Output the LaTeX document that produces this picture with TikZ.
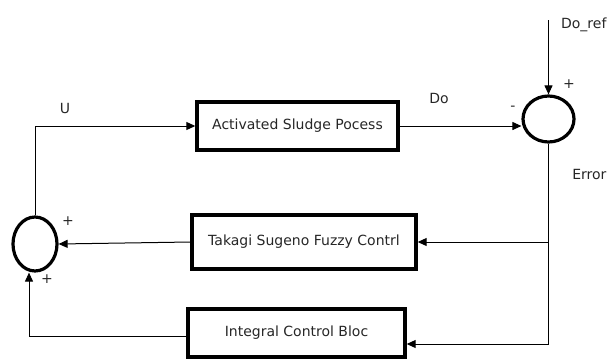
\documentclass[tikz,border=0pt]{standalone}
\usepackage{fontspec}
\setmainfont{DejaVu Sans}
\usetikzlibrary{shapes.geometric,arrows.meta}

\begin{document}
\begin{tikzpicture}[x=1pt,y=-1pt,
  blk/.style={draw,line width=3.4pt,inner sep=0pt},
  sumnode/.style={draw,ellipse,line width=3.2pt,inner sep=0pt},
  sig/.style={line width=1pt},
  lbl/.style={text=black!85,font=\fontsize{14}{16}\selectfont},
  >={Triangle[length=9pt,width=8pt]}]
  \useasboundingbox (0,0) rectangle (611,360);
  % blocks
  \node[blk,lbl,minimum width=201pt,minimum height=48pt] (asp) at (297.5,126) {Activated Sludge Pocess};
  \node[blk,lbl,minimum width=224pt,minimum height=54pt] (ts) at (304,242) {Takagi Sugeno Fuzzy Contrl};
  \node[blk,lbl,minimum width=217pt,minimum height=48pt] (ic) at (296.5,333) {Integral Control Bloc};
  % summing junctions
  \node[sumnode,minimum width=51pt,minimum height=46pt] (sumerr) at (548.5,119) {};
  \node[sumnode,minimum width=44pt,minimum height=54pt] (sumu) at (35,244) {};
  \coordinate (ref) at (548.5,20);
  \coordinate (br) at (548.5,344);
  \coordinate (bl) at (29,336);
  % connectors
  \draw[sig,->] (ref) -- (sumerr.north);
  \draw[sig,->] (asp.east) -- (sumerr.west |- asp.east);
  \draw[sig] (sumerr.south) -- (br);
  \draw[sig,->] (br) -- (br -| ic.east);
  \draw[sig,->] (sumerr.south |- ts.east) -- (ts.east);
  \draw[sig,->] (ts.west) -- (sumu.east);
  \draw[sig] (ic.west |- bl) -- (bl);
  \draw[sig,->] (bl) -- (bl |- sumu.south);
  \draw[sig,->] (sumu.north) -- (sumu.north |- asp.west) -- (asp.west);
  % labels
  \node[lbl] (lu) at (65,108) {U};
  \node[lbl] (ldo) at (439,98) {Do};
  \node[lbl,anchor=east] (lref) at (610,25) {Do\_ref};
  \node[lbl,anchor=east] (lerr) at (610,174) {Error};
  \node[lbl] (lm) at (513,108) {-};
  \node[lbl] (lp1) at (569,84) {+};
  \node[lbl] (lp2) at (68,221) {+};
  \node[lbl] (lp3) at (47,279) {+};
\end{tikzpicture}
\end{document}
